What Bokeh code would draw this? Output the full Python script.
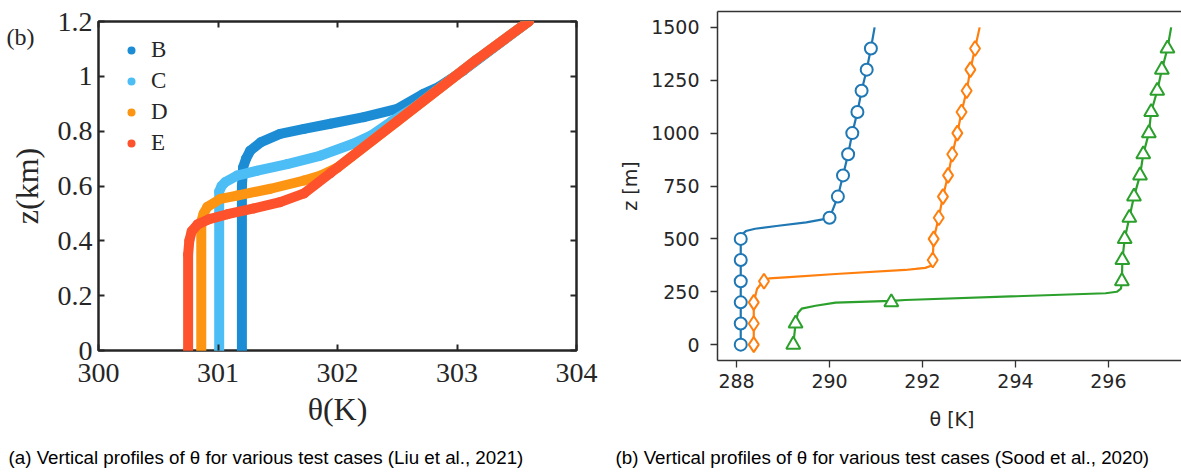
from bokeh.plotting import figure
from bokeh.models import Range1d, LinearAxis, FixedTicker, Label, Legend, LegendItem, Title
from bokeh.layouts import row, column
from bokeh.embed import file_html
from bokeh.resources import INLINE

# ---------------- panel (a): Liu et al., 2021 (theta in K, z in km) ----------------
B_theta = [301.20, 301.20, 301.21, 301.235, 301.27, 301.36, 301.52, 301.72, 301.94, 302.22, 302.50, 302.72, 302.85, 303.05, 303.60]
B_z     = [0.00,   0.60,   0.668,  0.700,   0.729,  0.760,  0.790,  0.808,  0.827,  0.851,  0.881,  0.936,  0.962,  1.020,  1.200]
C_theta = [301.01, 301.01, 301.03, 301.06, 301.16, 301.33, 301.58, 301.86, 302.13, 302.28, 302.45, 302.65, 303.155, 303.60]
C_z     = [0.00,   0.58,   0.600,  0.614,  0.638,  0.656,  0.680,  0.711,  0.754,  0.784,  0.835,  0.888,  1.058,   1.200]
D_theta = [300.86, 300.86, 300.88, 300.91, 301.02, 301.16, 301.44, 301.72, 301.86, 302.00, 302.50, 303.155, 303.60]
D_z     = [0.00,   0.47,   0.500,  0.523,  0.553,  0.565,  0.590,  0.620,  0.638,  0.667,  0.836,  1.058,   1.200]
E_theta = [300.75, 300.75, 300.76, 300.78, 300.83, 300.92, 301.08, 301.30, 301.52, 301.72, 301.94, 302.50, 303.155, 303.60]
E_z     = [0.00,   0.35,   0.400,  0.435,  0.460,  0.478,  0.497,  0.518,  0.541,  0.573,  0.647,  0.836,  1.058,   1.200]
cases_a = ["B", "C", "D", "E"]
colors_a = ["#1c8dd4", "#4dbef5", "#fd9412", "#fd522b"]
xticks_a = [300, 301, 302, 303, 304]
yticks_a = [0, 0.2, 0.4, 0.6, 0.8, 1.0, 1.2]

# ---------------- panel (b): Sood et al., 2020 (theta in K, z in m) ----------------
blue_line_theta = [288.09, 288.09, 288.12, 288.20, 288.40, 288.90, 289.50, 290.00, 290.18, 290.29, 290.40, 290.49, 290.60, 290.69, 290.80, 290.89, 290.97]
blue_line_z     = [0, 500, 522, 537, 548, 562, 578, 598, 700, 800, 900, 1000, 1100, 1200, 1300, 1400, 1500]
blue_mark_theta = [288.09, 288.09, 288.09, 288.09, 288.09, 288.09, 290.00, 290.18, 290.29, 290.40, 290.49, 290.60, 290.69, 290.80, 290.89]
blue_mark_z     = [0, 100, 200, 300, 400, 500, 600, 700, 800, 900, 1000, 1100, 1200, 1300, 1400]

orange_line_theta = [288.37, 288.37, 288.44, 288.59, 288.70, 289.05, 290.13, 291.63, 291.85, 292.06, 292.20, 292.22, 292.24, 292.35, 292.44, 292.55, 292.64, 292.75, 292.84, 292.95, 293.03, 293.13, 293.23]
orange_line_z     = [0, 200, 263, 306, 313, 318, 334, 353, 358, 363, 374, 400, 500, 600, 700, 800, 900, 1000, 1100, 1200, 1300, 1400, 1500]
orange_mark_theta = [288.37, 288.37, 288.37, 288.59, 292.22, 292.24, 292.35, 292.44, 292.55, 292.64, 292.75, 292.84, 292.95, 293.03, 293.13]
orange_mark_z     = [0, 100, 200, 300, 400, 500, 600, 700, 800, 900, 1000, 1100, 1200, 1300, 1400]

green_line_theta = [289.22, 289.27, 289.32, 289.40, 289.70, 290.13, 291.33, 291.63, 295.94, 296.18, 296.27, 296.29, 296.30, 296.35, 296.45, 296.55, 296.68, 296.75, 296.87, 296.92, 297.05, 297.15, 297.27, 297.35]
green_line_z     = [0, 100, 150, 170, 184, 199, 207, 211, 243, 250, 265, 300, 400, 500, 600, 700, 800, 900, 1000, 1100, 1200, 1300, 1400, 1500]
green_mark_theta = [289.22, 289.27, 291.33, 296.29, 296.30, 296.35, 296.45, 296.55, 296.68, 296.75, 296.87, 296.92, 297.05, 297.15, 297.27]
green_mark_z     = [0, 100, 200, 300, 400, 500, 600, 700, 800, 900, 1000, 1100, 1200, 1300, 1400]
colors_b = ["#1f77b4", "#ff7f0e", "#2ca02c"]
markers_b = ["circle", "diamond", "triangle"]
marker_sizes_b = [12, 15, 14]
xticks_b = [288, 290, 292, 294, 296, 298]
yticks_b = [0, 250, 500, 750, 1000, 1250, 1500]
zlim_b = (-75, 1575)
thlim_b = (287.59, 297.68)

INK = "#262626"
SERIF = "Liberation Serif"
SANS = "Liberation Sans"

# ================= panel (a) =================
p1 = figure(frame_width=478, frame_height=329,
            min_border_left=98, min_border_right=40, min_border_top=21, min_border_bottom=123,
            x_range=Range1d(300, 304), y_range=Range1d(0, 1.2),
            output_backend="svg", toolbar_location=None)
p1.grid.visible = False
p1.outline_line_color = INK
p1.outline_line_width = 2.5
p1.outline_line_alpha = 1.0

for ax in (p1.xaxis[0], p1.yaxis[0]):
    ax.axis_line_color = None
    ax.major_tick_in = 6
    ax.major_tick_out = 0
    ax.major_tick_line_width = 2
    ax.major_tick_line_color = INK
    ax.minor_tick_line_color = None
    ax.major_label_text_font = SERIF
    ax.major_label_text_font_size = "28px"
    ax.major_label_text_color = INK
    ax.axis_label_text_font = SERIF
    ax.axis_label_text_font_size = "32px"
    ax.axis_label_text_font_style = "normal"
    ax.axis_label_text_color = INK
p1.xaxis.ticker = FixedTicker(ticks=xticks_a)
p1.yaxis.ticker = FixedTicker(ticks=yticks_a)
p1.yaxis.major_label_overrides = {0: "0", 1: "1"}
p1.xaxis.major_label_standoff = 13
p1.yaxis.major_label_standoff = 6
p1.xaxis.axis_label = "θ(K)"
p1.xaxis.axis_label_standoff = 6
p1.yaxis.axis_label = "z(km)"
p1.yaxis.axis_label_standoff = 10

for loc, tk in (("above", xticks_a), ("right", yticks_a)):
    ax = LinearAxis(ticker=FixedTicker(ticks=tk), axis_line_color=None,
                    major_tick_in=6, major_tick_out=0, major_tick_line_width=2,
                    major_tick_line_color=INK, minor_tick_line_color=None,
                    major_label_text_font_size="1px", major_label_text_color=None,
                    major_label_standoff=0)
    p1.add_layout(ax, loc)

series_a = [(B_theta, B_z), (C_theta, C_z), (D_theta, D_z), (E_theta, E_z)]
items = []
for (th, zz), name, col in zip(series_a, cases_a, colors_a):
    p1.line(th, zz, line_width=10, line_color=col, line_cap="round", line_join="round")
    r = p1.scatter(th, zz, marker="circle", size=10, fill_color=col, line_color=None)
    items.append(LegendItem(label=name, renderers=[r]))

legend = Legend(items=items, location="top_left", margin=16, padding=0,
                glyph_width=34, glyph_height=20, label_standoff=3, spacing=5,
                label_text_font=SERIF, label_text_font_size="23px", label_text_color=INK,
                border_line_color=None, background_fill_alpha=0)
p1.add_layout(legend)

# panel tag "(b)" (a Label hosted in the right side panel, so it is not clipped to the frame)
p1.add_layout(Label(x=8 - 578, y=350 - 36, x_units="screen", y_units="screen", text="(b)",
                    text_font=SERIF, text_font_size="24px", text_color=INK,
                    text_baseline="alphabetic"), "right")

cap_a = Title(text="(a) Vertical profiles of θ for various test cases (Liu et al., 2021)",
              align="left", offset=-90, standoff=31, text_font=SANS, text_font_size="18.75px",
              text_font_style="normal", text_color="black")
p1.add_layout(cap_a, "below")

# ================= panel (b) =================
p2 = figure(frame_width=469, frame_height=349,
            min_border_left=96, min_border_right=0, min_border_top=11, min_border_bottom=113,
            x_range=Range1d(*thlim_b), y_range=Range1d(*zlim_b),
            output_backend="svg", toolbar_location=None)
p2.grid.visible = False
p2.outline_line_color = None
for ax in (p2.xaxis[0], p2.yaxis[0]):
    ax.axis_line_color = "#333333"
    ax.axis_line_width = 1.5
    ax.major_tick_in = 0
    ax.major_tick_out = 7
    ax.major_tick_line_width = 1.3
    ax.major_tick_line_color = "#333333"
    ax.minor_tick_line_color = None
    ax.major_label_text_font = "DejaVu Sans"
    ax.major_label_text_font_size = "19px"
    ax.major_label_text_color = INK
    ax.axis_label_text_font = "DejaVu Sans"
    ax.axis_label_text_font_size = "19px"
    ax.axis_label_text_font_style = "normal"
    ax.axis_label_text_color = INK
p2.xaxis.ticker = FixedTicker(ticks=xticks_b)
p2.yaxis.ticker = FixedTicker(ticks=yticks_b)
p2.xaxis.major_label_standoff = 6
p2.yaxis.major_label_standoff = 11
p2.xaxis.axis_label = "θ [K]"
p2.xaxis.axis_label_standoff = 17
p2.yaxis.axis_label = "z [m]"
p2.yaxis.axis_label_standoff = 7
# top spine: an axis with no ticks
top = LinearAxis(ticker=FixedTicker(ticks=[]), axis_line_color="#333333", axis_line_width=1.5,
                 major_tick_line_color=None, minor_tick_line_color=None, major_tick_in=0,
                 major_tick_out=0, major_label_text_font_size="1px",
                 major_label_text_color=None, major_label_standoff=0)
p2.add_layout(top, "above")

lines_b = [(blue_line_theta, blue_line_z), (orange_line_theta, orange_line_z), (green_line_theta, green_line_z)]
marks_b = [(blue_mark_theta, blue_mark_z), (orange_mark_theta, orange_mark_z), (green_mark_theta, green_mark_z)]
for (lt, lz), (mt, mz), col, mk, ms in zip(lines_b, marks_b, colors_b, markers_b, marker_sizes_b):
    p2.line(lt, lz, line_width=2.2, line_color=col)
    p2.scatter(mt, mz, marker=mk, size=ms, fill_color="white", line_color=col, line_width=2)

cap_b = Title(text="(b) Vertical profiles of θ for various test cases (Sood et al., 2020)",
              align="left", offset=-102, standoff=24, text_font=SANS, text_font_size="18.75px",
              text_font_style="normal", text_color="black")
p2.add_layout(cap_b, "below")

layout = row(column(p1), column(p2), spacing=0)
open("out.html", "w").write(file_html(layout, INLINE))
